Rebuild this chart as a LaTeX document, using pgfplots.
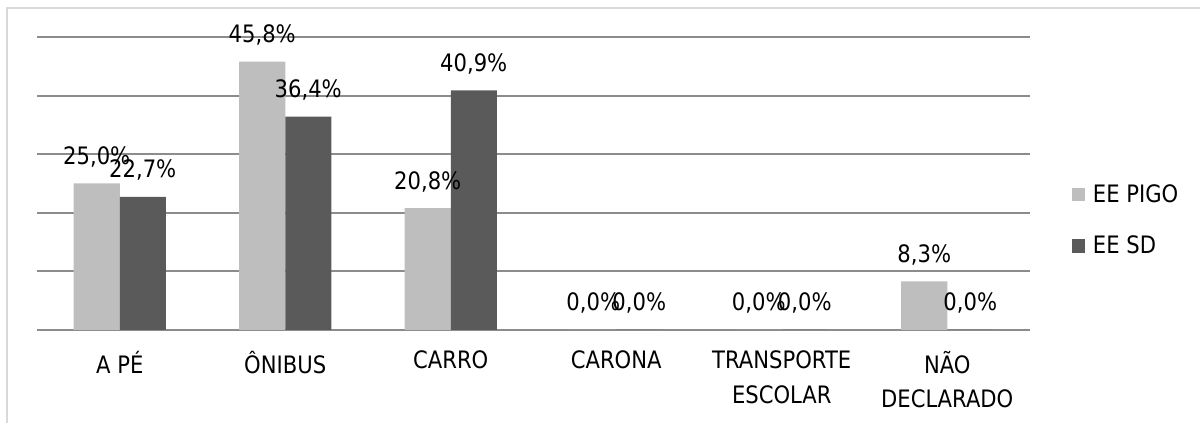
\documentclass[border=0pt]{standalone}
\usepackage{pgfplots}
\pgfplotsset{compat=1.18}
\usepackage{fontspec}
\setmainfont{DejaVu Sans}[FakeStretch=0.88]
\definecolor{lightbar}{HTML}{BEBEBE}
\definecolor{darkbar}{HTML}{5A5A5A}
\definecolor{gridc}{HTML}{8C8C8C}
\definecolor{framec}{HTML}{D9D9D9}
\begin{document}
\begin{tikzpicture}
\useasboundingbox (-27.75pt,-69.75pt) rectangle (872.25pt,247.5pt);
\draw[framec, line width=1pt] (-22.5pt,-80pt) -- (-22.5pt,241.5pt) -- (880pt,241.5pt);
\begin{axis}[
  width=744.75pt, height=219.75pt, scale only axis,
  /pgf/number format/assume math mode=true,
  ybar=0pt, bar width=0.278,
  xmin=-0.5, xmax=5.5, ymin=0, ymax=50,
  xtick={0,1,2,3,4,5},
  xticklabels={A PÉ, ÔNIBUS, CARRO, CARONA, {TRANSPORTE\\[5pt]ESCOLAR}, {NÃO\\[5pt]DECLARADO}},
  xticklabel style={align=center, font=\fontsize{18}{21}\selectfont, yshift=-8pt},
  major x tick style={draw=none},
  extra x ticks={-0.5,0.5,1.5,2.5,3.5,4.5,5.5},
  extra x tick labels={},
  extra x tick style={tick style={draw=gridc, line width=1.5pt}, major tick length=6pt, tick align=outside, grid=none},
  ytick={10,20,30,40,50}, yticklabels={},
  ymajorgrids, grid style={draw=gridc, line width=1.5pt},
  ytick style={draw=none},
  axis lines*=left,
  x axis line style={draw=gridc, line width=1.5pt, -},
  y axis line style={draw=none},
  nodes near coords={\pgfmathprintnumber[fixed,fixed zerofill,precision=1,use comma]{\pgfplotspointmeta}\%},
  every node near coord/.append style={font=\fontsize{18}{21}\selectfont, black, inner sep=2pt, yshift=10pt},
  legend style={at={(1.038,0.375)}, anchor=west, draw=none, fill=none, font=\fontsize{18}{21}\selectfont, row sep=20pt, /tikz/every even column/.append style={column sep=0pt}},
  legend cell align=left,
  legend image code/.code={\fill[#1] (0pt,-4.9pt) rectangle (9.75pt,4.9pt);},
  clip=false,
]
\addplot[fill=lightbar, draw=none] coordinates {(0,25.0) (1,45.8) (2,20.8) (3,0) (4,0) (5,8.3)};
\addplot[fill=darkbar, draw=none] coordinates {(0,22.7) (1,36.4) (2,40.9) (3,0) (4,0) (5,0)};
\legend{\hspace{4pt}EE PIGO, \hspace{4pt}EE SD}
\end{axis}
\end{tikzpicture}
\end{document}
